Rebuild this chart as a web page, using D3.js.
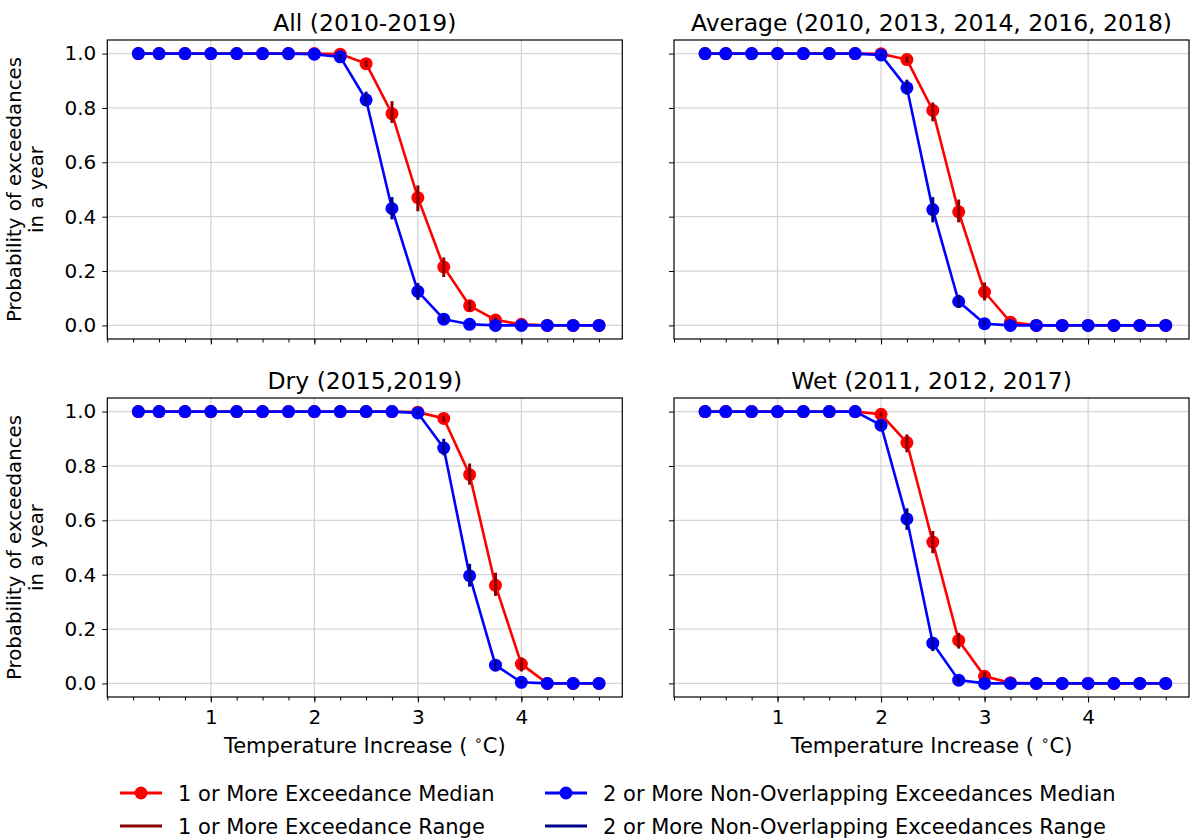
<!DOCTYPE html>
<html>
<head>
<meta charset="utf-8">
<script src="https://cdn.jsdelivr.net/npm/d3@7"></script>
<style>
  body { margin: 0; background: #fff; }
  text { font-family: "DejaVu Sans", sans-serif; fill: #000; }
</style>
</head>
<body>
<svg id="fig" width="1191" height="840"></svg>
<script>
// temperature increase (deg C)
var tempX = [0.3, 0.5, 0.75, 1, 1.25, 1.5, 1.75, 2, 2.25, 2.5, 2.75, 3, 3.25, 3.5, 3.75, 4, 4.25, 4.5, 4.75];

var majorTicks = [1, 2, 3, 4];
var minorTicks = d3.range(0, 4.8, 0.25);
var yTicks = [0, 0.2, 0.4, 0.6, 0.8, 1.0];

// All (2010-2019)
var allOneMed  = [1,1,1,1,1,1,1,1,0.998,0.963,0.779,0.47,0.215,0.072,0.02,0.004,0,0,0];
var allOneLo   = [1,1,1,1,1,1,1,1,0.995,0.95,0.745,0.42,0.178,0.052,0.008,0,0,0,0];
var allOneHi   = [1,1,1,1,1,1,1,1,1,0.975,0.825,0.515,0.25,0.092,0.032,0.01,0,0,0];
var allTwoMed  = [1,1,1,1,1,1,1,0.998,0.988,0.83,0.43,0.125,0.023,0.004,0,0,0,0,0];
var allTwoLo   = [1,1,1,1,1,1,1,0.995,0.975,0.806,0.39,0.094,0.01,0,0,0,0,0,0];
var allTwoHi   = [1,1,1,1,1,1,1,1,0.998,0.86,0.472,0.156,0.035,0.008,0,0,0,0,0];

// Average years
var avgOneMed  = [1,1,1,1,1,1,1,0.999,0.978,0.791,0.418,0.123,0.012,0,0,0,0,0,0];
var avgOneLo   = [1,1,1,1,1,1,1,0.996,0.966,0.751,0.379,0.092,0.002,0,0,0,0,0,0];
var avgOneHi   = [1,1,1,1,1,1,1,1,0.99,0.82,0.463,0.158,0.023,0,0,0,0,0,0];
var avgTwoMed  = [1,1,1,1,1,1,1,0.995,0.874,0.426,0.088,0.006,0,0,0,0,0,0,0];
var avgTwoLo   = [1,1,1,1,1,1,1,0.99,0.849,0.379,0.064,0,0,0,0,0,0,0,0];
var avgTwoHi   = [1,1,1,1,1,1,1,1,0.904,0.472,0.113,0.02,0,0,0,0,0,0,0];

// Dry years
var dryOneMed  = [1,1,1,1,1,1,1,1,1,1,1,0.998,0.975,0.768,0.361,0.071,0,0,0];
var dryOneLo   = [1,1,1,1,1,1,1,1,1,1,1,0.995,0.962,0.731,0.322,0.044,0,0,0];
var dryOneHi   = [1,1,1,1,1,1,1,1,1,1,1,1,0.985,0.809,0.407,0.095,0,0,0];
var dryTwoMed  = [1,1,1,1,1,1,1,1,1,1,1,0.995,0.866,0.396,0.067,0.004,0,0,0];
var dryTwoLo   = [1,1,1,1,1,1,1,1,1,1,1,0.99,0.839,0.356,0.046,0,0,0,0];
var dryTwoHi   = [1,1,1,1,1,1,1,1,1,1,1,1,0.9,0.44,0.088,0.01,0,0,0];

// Wet years
var wetOneMed  = [1,1,1,1,1,1,1,0.99,0.886,0.52,0.158,0.026,0.002,0,0,0,0,0,0];
var wetOneLo   = [1,1,1,1,1,1,1,0.978,0.85,0.479,0.128,0.006,0,0,0,0,0,0,0];
var wetOneHi   = [1,1,1,1,1,1,1,1,0.916,0.561,0.186,0.043,0.006,0,0,0,0,0,0];
var wetTwoMed  = [1,1,1,1,1,1,1,0.95,0.605,0.148,0.012,0,0,0,0,0,0,0,0];
var wetTwoLo   = [1,1,1,1,1,1,1,0.932,0.565,0.119,0,0,0,0,0,0,0,0,0];
var wetTwoHi   = [1,1,1,1,1,1,1,0.968,0.644,0.171,0.024,0,0,0,0,0,0,0,0];

var titles = ["All (2010-2019)", "Average (2010, 2013, 2014, 2016, 2018)", "Dry (2015,2019)", "Wet (2011, 2012, 2017)"];
var legendLabels = ["1 or More Exceedance Median", "1 or More Exceedance Range",
                    "2 or More Non-Overlapping Exceedances Median", "2 or More Non-Overlapping Exceedances Range"];

var svg = d3.select("#fig");
var pw = 515, ph = 299;

var x = d3.scaleLinear().domain([0, 4.975]).range([0, pw]);
var y = d3.scaleLinear().domain([-0.05, 1.05]).range([ph, 0]);

var panels = [
  {title: titles[0], left: 107.3, top: 40,  xlab: false, ylab: true,
   one: [allOneMed, allOneLo, allOneHi], two: [allTwoMed, allTwoLo, allTwoHi]},
  {title: titles[1], left: 674,   top: 40,  xlab: false, ylab: false,
   one: [avgOneMed, avgOneLo, avgOneHi], two: [avgTwoMed, avgTwoLo, avgTwoHi]},
  {title: titles[2], left: 107.3, top: 398, xlab: true,  ylab: true,
   one: [dryOneMed, dryOneLo, dryOneHi], two: [dryTwoMed, dryTwoLo, dryTwoHi]},
  {title: titles[3], left: 674,   top: 398, xlab: true,  ylab: false,
   one: [wetOneMed, wetOneLo, wetOneHi], two: [wetTwoMed, wetTwoLo, wetTwoHi]}
];

var line = d3.line().x(function(d) { return x(d[0]); }).y(function(d) { return y(d[1]); });

function drawSeries(g, s, col, errCol) {
  var pts = tempX.map(function(t, i) { return [t, s[0][i], s[1][i], s[2][i]]; });
  g.append("path").datum(pts)
    .attr("d", line).attr("fill", "none")
    .attr("stroke", col).attr("stroke-width", 2.6);
  g.selectAll(null).data(pts).enter().append("circle")
    .attr("cx", function(d) { return x(d[0]); })
    .attr("cy", function(d) { return y(d[1]); })
    .attr("r", 6.5).attr("fill", col);
  g.selectAll(null).data(pts.filter(function(d) { return d[3] > d[2]; })).enter().append("line")
    .attr("x1", function(d) { return x(d[0]); })
    .attr("x2", function(d) { return x(d[0]); })
    .attr("y1", function(d) { return y(d[2]); })
    .attr("y2", function(d) { return y(d[3]); })
    .attr("stroke", errCol).attr("stroke-width", 3);
}

panels.forEach(function(p) {
  var g = svg.append("g").attr("transform", "translate(" + p.left + "," + p.top + ")");

  // grid
  g.selectAll(null).data(yTicks).enter().append("line")
    .attr("x1", 0).attr("x2", pw)
    .attr("y1", function(d) { return y(d); }).attr("y2", function(d) { return y(d); })
    .attr("stroke", "#d6d6d6").attr("stroke-width", 1.3);
  g.selectAll(null).data(majorTicks).enter().append("line")
    .attr("y1", 0).attr("y2", ph)
    .attr("x1", function(d) { return x(d); }).attr("x2", function(d) { return x(d); })
    .attr("stroke", "#d6d6d6").attr("stroke-width", 1.3);

  // axes
  var xMinor = g.append("g").attr("transform", "translate(0," + ph + ")")
    .call(d3.axisBottom(x).tickValues(minorTicks).tickSize(3.5).tickFormat(""));
  var xMajor = g.append("g").attr("transform", "translate(0," + ph + ")")
    .style("font-size", "20px")
    .call(d3.axisBottom(x).tickValues(majorTicks).tickSize(5.5).tickPadding(7)
      .tickFormat(p.xlab ? d3.format("d") : ""));
  var yAx = g.append("g")
    .style("font-size", "20px")
    .call(d3.axisLeft(y).tickValues(yTicks).tickSize(5).tickPadding(6)
      .tickFormat(p.ylab ? d3.format(".1f") : ""));
  [xMinor, xMajor, yAx].forEach(function(a) {
    a.select(".domain").remove();
    a.selectAll(".tick line").attr("stroke", "#000").attr("stroke-width", 1);
    a.selectAll("text").attr("fill", "#000").style("font-family", "DejaVu Sans");
  });

  drawSeries(g, p.one, "#ff0000", "#8b0000");
  drawSeries(g, p.two, "#0000ff", "#00008b");

  // frame
  g.append("rect").attr("width", pw).attr("height", ph)
    .attr("fill", "none").attr("stroke", "#000").attr("stroke-width", 1.2);

  g.append("text").attr("x", pw / 2).attr("y", -9)
    .attr("text-anchor", "middle").style("font-size", "23.5px")
    .text(p.title);

  if (p.xlab) {
    var xl = g.append("text").attr("x", pw / 2).attr("y", ph + 56)
      .attr("text-anchor", "middle").style("font-size", "21px");
    xl.append("tspan").text("Temperature Increase ( ");
    xl.append("tspan").attr("dy", -8).style("font-size", "14px").text("\u2218");
    xl.append("tspan").attr("dy", 8).text("C)");
  }
  if (p.ylab) {
    var yl = g.append("text").attr("transform", "translate(-86," + (ph / 2) + ") rotate(-90)")
      .attr("text-anchor", "middle").style("font-size", "19.8px");
    yl.append("tspan").attr("x", 0).attr("dy", 0).text("Probability of exceedances");
    yl.append("tspan").attr("x", 0).attr("dy", 22).text("in a year");
  }
});

// legend
var legItems = [
  {label: legendLabels[0], col: "#ff0000", marker: true,  hx: 120, ty: 793},
  {label: legendLabels[1], col: "#8b0000", marker: false, hx: 120, ty: 826},
  {label: legendLabels[2], col: "#0000ff", marker: true,  hx: 545, ty: 793},
  {label: legendLabels[3], col: "#00008b", marker: false, hx: 545, ty: 826}
];
var leg = svg.append("g");
legItems.forEach(function(d) {
  leg.append("line").attr("x1", d.hx).attr("x2", d.hx + 42)
    .attr("y1", d.ty).attr("y2", d.ty)
    .attr("stroke", d.col).attr("stroke-width", 3);
  if (d.marker) {
    leg.append("circle").attr("cx", d.hx + 21).attr("cy", d.ty).attr("r", 6.5).attr("fill", d.col);
  }
  leg.append("text").attr("x", d.hx + 58).attr("y", d.ty + 7.5)
    .style("font-size", "21px").text(d.label);
});
</script>
</body>
</html>
